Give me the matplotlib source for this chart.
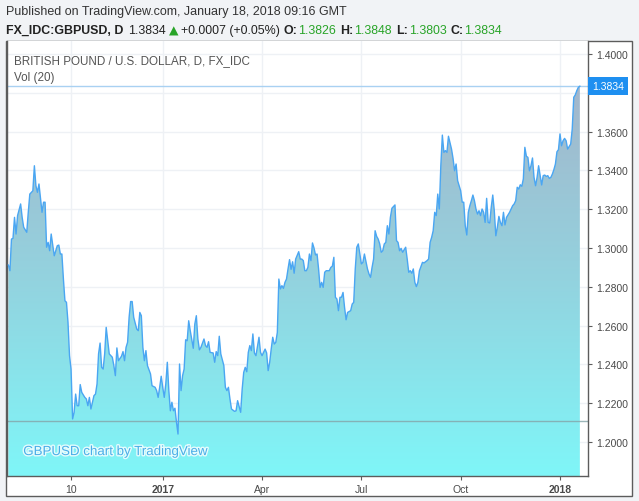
import numpy as np
import pandas as pd
import matplotlib
matplotlib.use("Agg")
import matplotlib.pyplot as plt
import matplotlib.patheffects as pe
from matplotlib.patches import Rectangle
from matplotlib.colors import LinearSegmentedColormap

# daily bars (weekdays) from 2016-08-12 to 2018-01-18
start, end = "2016-08-12", "2018-01-18"

# bar number (weekday count from start) and close
day_idx = [0, 1, 2, 3, 4, 5, 6, 8, 9, 10, 12, 13, 14, 16, 17, 18, 19, 20, 22, 23,
           24, 25, 26, 27, 28, 30, 32, 33, 34, 35, 36, 37, 38, 39, 40, 41, 42, 43, 44, 45,
           46, 47, 48, 50, 51, 52, 53, 54, 55, 56, 57, 58, 59, 60, 61, 62, 63, 64, 66, 68,
           69, 70, 71, 72, 74, 75, 76, 77, 78, 79, 80, 81, 82, 84, 85, 86, 87, 88, 89, 90,
           91, 93, 94, 96, 97, 98, 99, 100, 101, 102, 103, 104, 105, 106, 107, 108, 109, 110, 111, 112,
           113, 114, 115, 116, 117, 118, 119, 121, 122, 123, 124, 125, 126, 128, 129, 130, 131, 132, 134, 135,
           136, 137, 138, 139, 141, 142, 143, 144, 145, 146, 148, 149, 150, 152, 153, 154, 155, 156, 157, 158,
           159, 160, 161, 162, 164, 165, 166, 168, 169, 170, 171, 172, 173, 174, 175, 176, 177, 178, 179, 180,
           181, 182, 183, 184, 185, 186, 187, 188, 190, 191, 192, 193, 194, 195, 196, 197, 198, 199, 200, 201,
           202, 203, 204, 205, 206, 207, 208, 210, 211, 212, 213, 214, 215, 216, 217, 218, 219, 220, 221, 222,
           224, 225, 226, 227, 228, 229, 230, 231, 232, 233, 235, 236, 237, 238, 239, 240, 241, 242, 243, 244,
           245, 246, 247, 248, 249, 250, 251, 253, 254, 255, 256, 257, 258, 260, 261, 262, 263, 264, 265, 266,
           267, 268, 269, 271, 272, 274, 275, 276, 277, 278, 279, 280, 281, 282, 283, 284, 285, 286, 287, 288,
           290, 291, 292, 293, 294, 296, 297, 298, 299, 300, 301, 302, 303, 304, 305, 306, 307, 308, 309, 310,
           311, 312, 313, 314, 315, 316, 317, 318, 319, 320, 321, 322, 323, 324, 325, 326, 328, 330, 331, 332,
           333, 334, 335, 336, 337, 338, 339, 340, 341, 342, 343, 344, 345, 346, 347, 349, 350, 351, 352, 353,
           354, 355, 356, 357, 358, 359, 360, 361, 362, 363, 364, 365, 366, 368, 369, 370, 371, 372, 373, 374]
close = [1.2912, 1.2883, 1.3046, 1.3050, 1.3158, 1.3072, 1.3167, 1.3227, 1.3158, 1.3107, 1.3081, 1.3184, 1.3278, 1.3295, 1.3424, 1.3321, 1.3287, 1.3330, 1.3184, 1.3236,
         1.3236, 1.3004, 1.3029, 1.2986, 1.3072, 1.2960, 1.3012, 1.3015, 1.2969, 1.2969, 1.2840, 1.2728, 1.2720, 1.2617, 1.2445, 1.2376, 1.2119, 1.2153, 1.2247, 1.2187,
         1.2187, 1.2296, 1.2256, 1.2230, 1.2222, 1.2187, 1.2230, 1.2170, 1.2205, 1.2239, 1.2247, 1.2299, 1.2454, 1.2510, 1.2385, 1.2376, 1.2454, 1.2591, 1.2454, 1.2437,
         1.2394, 1.2342, 1.2485, 1.2419, 1.2442, 1.2466, 1.2419, 1.2488, 1.2514, 1.2643, 1.2724, 1.2724, 1.2643, 1.2582, 1.2574, 1.2668, 1.2651, 1.2488, 1.2419, 1.2471,
         1.2394, 1.2351, 1.2290, 1.2282, 1.2265, 1.2230, 1.2282, 1.2339, 1.2282, 1.2230, 1.2299, 1.2411, 1.2265, 1.2161, 1.2205, 1.2161, 1.2174, 1.2102, 1.2041, 1.2402,
         1.2265, 1.2342, 1.2376, 1.2527, 1.2522, 1.2625, 1.2574, 1.2483, 1.2608, 1.2651, 1.2531, 1.2475, 1.2488, 1.2531, 1.2497, 1.2488, 1.2517, 1.2462, 1.2459, 1.2411,
         1.2466, 1.2445, 1.2545, 1.2454, 1.2394, 1.2282, 1.2265, 1.2282, 1.2222, 1.2170, 1.2158, 1.2161, 1.2213, 1.2153, 1.2273, 1.2359, 1.2385, 1.2362, 1.2462, 1.2497,
         1.2471, 1.2557, 1.2459, 1.2445, 1.2540, 1.2462, 1.2445, 1.2479, 1.2459, 1.2368, 1.2411, 1.2479, 1.2540, 1.2505, 1.2514, 1.2565, 1.2840, 1.2789, 1.2806, 1.2792,
         1.2823, 1.2840, 1.2892, 1.2940, 1.2890, 1.2929, 1.2870, 1.2943, 1.2981, 1.2943, 1.2943, 1.2935, 1.2883, 1.2883, 1.2900, 1.2969, 1.2935, 1.3026, 1.3000, 1.2964,
         1.2969, 1.2892, 1.2797, 1.2823, 1.2797, 1.2875, 1.2883, 1.2883, 1.2900, 1.2906, 1.2952, 1.2746, 1.2737, 1.2677, 1.2746, 1.2746, 1.2771, 1.2694, 1.2630, 1.2668,
         1.2677, 1.2711, 1.2720, 1.2892, 1.3004, 1.3021, 1.2969, 1.2918, 1.2926, 1.2969, 1.2892, 1.2866, 1.2849, 1.2900, 1.2943, 1.3089, 1.3060, 1.3046, 1.3021, 1.2978,
         1.2986, 1.3021, 1.3029, 1.3115, 1.3072, 1.3158, 1.3205, 1.3222, 1.3038, 1.3029, 1.2986, 1.2998, 1.2978, 1.3004, 1.2943, 1.2875, 1.2883, 1.2870, 1.2892, 1.2823,
         1.2801, 1.2823, 1.2883, 1.2926, 1.2923, 1.2935, 1.2943, 1.3029, 1.3055, 1.3089, 1.3184, 1.3167, 1.3278, 1.3201, 1.3424, 1.3582, 1.3493, 1.3502, 1.3493, 1.3576,
         1.3510, 1.3462, 1.3398, 1.3433, 1.3347, 1.3295, 1.3236, 1.3236, 1.3115, 1.3067, 1.3184, 1.3218, 1.3244, 1.3273, 1.3244, 1.3201, 1.3175, 1.3192, 1.3167, 1.3201,
         1.3184, 1.3132, 1.3256, 1.3132, 1.3129, 1.3210, 1.3273, 1.3192, 1.3063, 1.3107, 1.3163, 1.3132, 1.3115, 1.3184, 1.3119, 1.3158, 1.3184, 1.3218, 1.3227, 1.3244,
         1.3313, 1.3304, 1.3326, 1.3318, 1.3356, 1.3519, 1.3473, 1.3467, 1.3398, 1.3424, 1.3464, 1.3364, 1.3321, 1.3364, 1.3424, 1.3325, 1.3373, 1.3376, 1.3369, 1.3373,
         1.3359, 1.3364, 1.3381, 1.3404, 1.3433, 1.3496, 1.3507, 1.3588, 1.3527, 1.3553, 1.3565, 1.3553, 1.3510, 1.3536, 1.3613, 1.3777, 1.3789, 1.3811, 1.3828, 1.3834]

price_ticks = [1.20, 1.22, 1.24, 1.26, 1.28, 1.30, 1.32, 1.34, 1.36, 1.38, 1.40]
time_ticks = ["2016-10-10", "2017-01-02", "2017-04-03", "2017-07-03", "2017-10-02", "2018-01-01"]
time_labels = ["10", "2017", "Apr", "Jul", "Oct", "2018"]
last_price = 1.3834
vol_base = 1.2110

W, H = 639, 502
fig = plt.figure(figsize=(W / 100, H / 100), dpi=100, facecolor="#f1f3f6")
FONT = "Liberation Sans"


def fx(x):
    return x / W


def fy(y):
    return 1 - y / H


fig.patches.append(Rectangle((fx(6), fy(497)), (632 - 6) / W, (497 - 42) / H,
                             transform=fig.transFigure, facecolor="white",
                             edgecolor="#5c5c5c", lw=1, zorder=-5))

ax = fig.add_axes([fx(7), fy(477), (587.5 - 7) / W, (477 - 42) / H])
ax.set_zorder(2)
ax.set_facecolor("white")

dates = pd.bdate_range(start, end)
xpos = np.searchsorted(dates, pd.to_datetime(time_ticks))
x = np.array(day_idx)
y = np.array(close)

ylo, yhi = 1.2 - 34 / 1940, 1.4 + 13 / 1940
xlo, xhi = -0.92, 379.0

# grid
for t in price_ticks:
    ax.axhline(t, color="#eef1f5", lw=1, zorder=0)
for t in xpos:
    ax.axvline(t, color="#eef1f5", lw=1, zorder=0)

# gradient area under the line
cmap = LinearSegmentedColormap.from_list("area", ["#a3b6cb", "#93d3df", "#7ff6f8"])
grad = np.linspace(0, 1, 256).reshape(-1, 1)
poly = ax.fill_between(x, y, ylo, color="none", lw=0)
img = ax.imshow(grad, cmap=cmap, aspect="auto", extent=[xlo, xhi, ylo, max(close)],
                origin="upper", zorder=1)
img.set_clip_path(poly.get_paths()[0], transform=ax.transData)
ax.set_xlim(xlo, xhi)
ax.set_ylim(ylo, yhi)

ax.plot(x, y, color="#4aa6f2", lw=1.0, zorder=3)
ax.axhline(vol_base, color="#84a4a8", lw=1, alpha=0.8, zorder=2)
ax.axhline(last_price, color="#a9d1f2", lw=1, zorder=2)

# axes styling
ax.spines["top"].set_visible(False)
for s in ["left", "right", "bottom"]:
    ax.spines[s].set_color("#5c5c5c")
    ax.spines[s].set_linewidth(1)
ax.yaxis.tick_right()
ax.set_yticks(price_ticks)
ax.set_yticklabels([f"{t:.4f}" for t in price_ticks], fontname=FONT, fontsize=7.5, color="#4a4a4a")
ax.tick_params(axis="y", length=3, width=0.8, color="#5c5c5c", pad=3)
ax.set_xticks(xpos)
ax.set_xticklabels(time_labels, fontname=FONT, fontsize=7.5, color="#4a4a4a")
for lab, txt in zip(ax.get_xticklabels(), time_labels):
    if txt in ("2017", "2018"):
        lab.set_fontweight("bold")
ax.tick_params(axis="x", length=3, width=0.8, color="#5c5c5c", pad=3)
ax.yaxis.get_ticklabels()[price_ticks.index(1.38)].set_visible(False)

# last price tag
ax.annotate(f"{last_price:.4f}", xy=(1.0, last_price), xycoords=("axes fraction", "data"),
            xytext=(3.2, 0), textcoords="offset points", va="center", ha="left",
            fontname=FONT, fontsize=7.5, color="white", zorder=10, annotation_clip=False,
            bbox=dict(boxstyle="square,pad=0.38", fc="#1e8ff0", ec="none"))

# legend inside the pane
ax.text(0.012, 0.955, "BRITISH POUND / U.S. DOLLAR, D, FX_IDC", transform=ax.transAxes,
        fontname=FONT, fontsize=8.4, color="#555555", va="center", zorder=6)
ax.text(0.012, 0.918, "Vol (20)", transform=ax.transAxes,
        fontname=FONT, fontsize=8.4, color="#555555", va="center", zorder=6)
ax.text(0.028, 0.055, "GBPUSD chart by TradingView", transform=ax.transAxes,
        fontname=FONT, fontsize=9.6, color="#4aaee8", va="center", zorder=6,
        path_effects=[pe.withStroke(linewidth=2, foreground="#e4fcfd")])

# header
fig.text(fx(6), fy(12), "Published on TradingView.com, January 18, 2018 09:16 GMT",
         fontname=FONT, fontsize=9.0, color="#333333", va="center")
hy = fy(31)
parts = [("FX_IDC:GBPUSD, D", "bold", "#222222", 5),
         ("1.3834", "normal", "#222222", 3),
         ("\u25B2", "normal", "#28a428", 2),
         ("+0.0007 (+0.05%)", "normal", "#222222", 4),
         ("O:", "bold", "#222222", 1),
         ("1.3826", "normal", "#28a428", 4),
         ("H:", "bold", "#222222", 1),
         ("1.3848", "normal", "#28a428", 4),
         ("L:", "bold", "#222222", 1),
         ("1.3803", "normal", "#28a428", 4),
         ("C:", "bold", "#222222", 1),
         ("1.3834", "normal", "#28a428", 0)]
renderer = fig.canvas.get_renderer()
cur = 6
for txt, wt, col, gap in parts:
    fam = "DejaVu Sans" if txt == "\u25B2" else FONT
    t = fig.text(fx(cur), hy, txt, fontname=fam, fontsize=8.9, fontweight=wt, color=col, va="center")
    cur += t.get_window_extent(renderer).width + gap

fig.savefig("out.png", dpi=100, facecolor=fig.get_facecolor())
